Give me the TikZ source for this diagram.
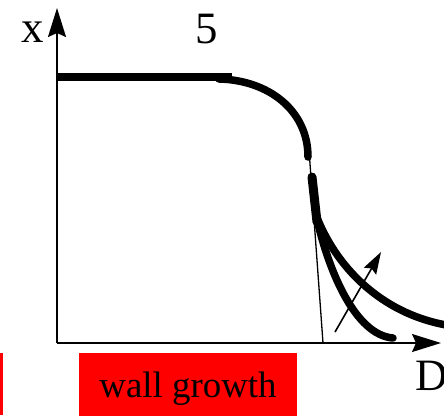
\documentclass[tikz,border=0pt]{standalone}
\usepackage{fontspec}
\setmainfont{Liberation Serif}
\usepackage{tikz}
\usetikzlibrary{arrows.meta}
\definecolor{WGRed}  {HTML}{FF0000}
\definecolor{WGBlack}{HTML}{000000}

\begin{document}
\begin{tikzpicture}[x=1bp,y=-1bp,
    axisline/.style={line width=1.6bp,WGBlack,-{Stealth[length=29bp,width=18bp,inset=4bp]}},
    thickcurve/.style={line width=7.5bp,line cap=round,WGBlack},
    axislabel/.style={font=\fontsize{45}{50}\selectfont,text=WGBlack,inner sep=0pt}]
    \useasboundingbox (0,0) rectangle (444,415);
    \clip (0,0) rectangle (444,415);
    % axes
    \coordinate (origin) at (57,343);
    \coordinate (ytip) at (57,8);
    \coordinate (xtip) at (441,343);
    \draw[axisline] (origin) -- (ytip);
    \draw[axisline] (origin) -- (xtip);
    \node[axislabel,anchor=base] (xlab) at (33,42) {x};
    \node[axislabel,anchor=base west] (dlab) at (415,390) {D};
    \node[axislabel,anchor=base] (five) at (207,43) {5};
    % profile
    \draw[line width=8bp,WGBlack] (origin |- 0,77) -- (232,77);
    \draw[thickcurve] (219,79) .. controls (268,80) and (308,110) .. (308,157);
    \coordinate (tantop) at (309,150);
    \coordinate (tanfoot) at (323,343);
    \draw[line width=1.3bp,WGBlack] (tantop) -- (tanfoot);
    \draw[line width=9bp,line cap=round,WGBlack] (312,177) -- (317,222);
    \draw[thickcurve] (316,215) .. controls (328,270) and (355,335) .. (393,338);
    \draw[thickcurve] (316,215) .. controls (335,265) and (380,315) .. (452,326);
    \coordinate (shiftfrom) at (335,332);
    \coordinate (shiftto) at (381,252);
    \draw[line width=1.6bp,WGBlack,-{Stealth[length=22bp,width=14bp,inset=3bp]}] (shiftfrom) -- (shiftto);
    % legend
    \fill[WGRed] (0,353) rectangle (3,415);
    \node[fill=WGRed,minimum width=218bp,minimum height=72bp,inner sep=0pt,
      font=\fontsize{37}{40}\selectfont,text=WGBlack] (wall) at (188,389) {wall growth};
\end{tikzpicture}
\end{document}
